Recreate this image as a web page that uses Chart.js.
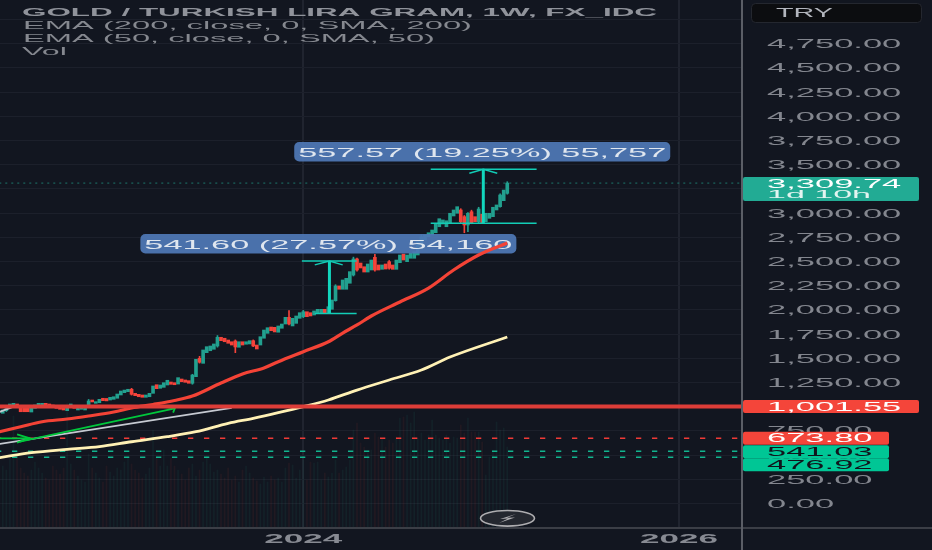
<!DOCTYPE html>
<html>
<head>
<meta charset="utf-8">
<title>GOLD / TURKISH LIRA GRAM</title>
<script src="https://cdn.jsdelivr.net/npm/chart.js@4"></script>
<style>
  html, body { margin: 0; padding: 0; background: #121620; }
  canvas { display: block; }
</style>
</head>
<body>
<canvas id="goldChart" width="932" height="550"></canvas>
<script>
// weekly candles, week 0 is the first week of 2024, first candle is week -84
const firstWeek = -84;
const opens = [
  932,959,994,1007,1028,994,983,987,945,983,1010,1018,1035,1028,1018,1007,1000,1000,959,1000,
  1007,966,973,966,1018,1069,1035,1041,1087,1085,1069,1076,1087,1121,1145,1155,1180,1138,1128,1121,
  1097,1103,1138,1227,1190,1200,1224,1255,1248,1234,1286,1276,1269,1242,1310,1500,1448,1558,1578,1593,
  1627,1717,1707,1689,1671,1679,1614,1671,1645,1648,1682,1637,1637,1707,1758,1823,1820,1769,1810,1854,
  1923,1834,1861,1913,1930,1981,1971,1947,1965,1971,2006,1971,2006,2095,2247,2213,2213,2275,2360,2526,
  2484,2446,2391,2412,2543,2464,2419,2474,2498,2464,2419,2488,2577,2498,2533,2533,2567,2670,2722,2756,
  2774,2797,2859,2887,2859,2901,2970,2998,3032,2963,2877,3014,2963,2911,2988,2911,2946,2963,3032,3066,
  3128,3204
];
const closes = [
  966,983,1028,1035,994,948,948,948,983,1018,1035,1035,1007,1000,994,983,973,966,983,1028,
  983,990,990,990,1059,1049,1052,1076,1062,1060,1097,1103,1131,1162,1172,1180,1128,1114,1103,1097,
  1121,1138,1214,1186,1224,1248,1273,1231,1227,1300,1258,1252,1242,1327,1490,1459,1586,1620,1627,1648,
  1717,1682,1671,1655,1637,1617,1671,1637,1671,1682,1627,1596,1723,1792,1816,1785,1772,1834,1854,1923,
  1854,1913,1937,1971,1981,1930,1937,1989,2006,2006,1971,2033,2102,2247,2213,2309,2326,2395,2526,2412,
  2433,2391,2474,2515,2412,2412,2464,2422,2430,2419,2515,2567,2515,2567,2585,2601,2704,2756,2774,2797,
  2825,2884,2942,2929,2921,2998,3032,3066,2911,2877,2998,2901,2911,3042,2901,2998,2998,3060,3084,3187,
  3238,3309.74
];
// only the wicks that show at this scale
const wickWeeks = [-83,-60,-48,-31,-29,-24,-19,-14,-4,0,9,14,15,20,24,33,44,45,46,47,49,55,57];
const wickHighs = [995,1075,1190,1335,1520,1735,1690,1690,1992,1995,2260,2545,2535,2575,2510,2775,3045,2975,3005,3030,3060,3200,3324];
const wickLows = [950,1010,1120,1232,1450,1615,1558,1620,1845,1920,2090,2350,2400,2400,2420,2660,2900,2797,2808,2890,2900,3060,3195];
const volumes = [
  62,58,70,112,75,60,55,52,58,66,60,55,50,48,62,58,54,60,125,64,
  58,52,48,46,74,60,55,50,46,62,56,52,60,58,66,72,64,58,55,50,
  54,60,98,70,62,78,62,70,62,58,54,48,60,64,52,58,66,72,64,56,
  58,54,50,60,48,52,46,58,62,55,50,47,44,51,46,52,48,50,
  46,60,65,63,50,58,68,48,66,65,66,48,55,51,55,68,55,58,61,68,
  98,105,85,81,75,78,95,91,90,81,88,85,91,110,111,113,105,116,90,95,
  88,93,108,93,90,88,93,85,91,90,103,95,110,96,96,96,86,53,71,78,
  106,98,100,81
];

const ema50Weeks = [-85,-79,-73,-66,-60,-53,-48,-42,-36,-31,-23,-17,-11,-7,0,7,11,15,19,27,35,42,49,57];
const ema50 = [741,793,845,873,904,945,987,1023,1064,1110,1245,1338,1400,1465,1568,1671,1761,1844,1937,2082,2226,2412,2567,2691];
const ema200Weeks = [-85,-76,-66,-57,-48,-38,-30,-21,-14,-7,0,7,15,24,33,41,57];
const ema200 = [473,525,560,587,638,690,742,828,880,938,1000,1069,1172,1276,1379,1513,1720];

const lastPrice = 3309.74;
const levelResistance = 1001.55;
const dashedRed = 673.80;
const dashedGreen = [541.03, 476.92];

const yTicks = [0,250,500,750,1000,1250,1500,1750,2000,2250,2500,2750,3000,3250,3500,3750,4000,4250,4500,4750,5000];
const yLabels = ['0.00','250.00','500.00','750.00','1,000.00','1,250.00','1,500.00','1,750.00','2,000.00','2,250.00','2,500.00','2,750.00','3,000.00','3,250.00','3,500.00','3,750.00','4,000.00','4,250.00','4,500.00','4,750.00',''];
const xTicks = [0, 105];
const xLabels = ['2024', '2026'];

const weeks = opens.map((_, i) => firstWeek + i);

const teal = '#22a08f';
const red = '#f4433a';

function toPoints(xs, ys) {
  return xs.map((x, i) => ({ x: x, y: ys[i] }));
}

function lineSet(points, color, width, order, dash, dashOffset) {
  return {
    type: 'line',
    data: points,
    borderColor: color,
    borderWidth: width,
    borderDash: dash || [],
    borderDashOffset: dashOffset || 0,
    pointRadius: 0,
    fill: false,
    tension: 0,
    order: order
  };
}

function level(value, color, width, order, dash, dashOffset) {
  return lineSet(toPoints([-90, 130], [value, value]), color, width, order, dash, dashOffset);
}

// stretched text, the screenshot was scaled wider than tall
function wideText(ctx, text, x, y, sx, font, color) {
  ctx.save();
  ctx.font = font;
  ctx.textAlign = 'left';
  ctx.textBaseline = 'middle';
  ctx.fillStyle = color;
  ctx.translate(x, y + 1);
  ctx.scale(sx, 1);
  ctx.fillText(text, 0, 0);
  ctx.restore();
}

function fitText(ctx, text, x, y, width, font, color) {
  ctx.save();
  ctx.font = font;
  const natural = ctx.measureText(text).width;
  ctx.restore();
  wideText(ctx, text, x, y, width / natural, font, color);
}

function roundBox(ctx, x, y, w, h, r, fill, stroke) {
  ctx.beginPath();
  ctx.roundRect(x, y, w, h, r);
  ctx.fillStyle = fill;
  ctx.fill();
  if (stroke) {
    ctx.strokeStyle = stroke;
    ctx.lineWidth = 1;
    ctx.stroke();
  }
}

const axisFont = '12.5px "Liberation Sans"';
const axisStretch = 2.76;

const overlay = {
  id: 'overlay',
  // measuring labels sit over the candles but under the red ema
  afterDatasetDraw(chart, args) {
    if (chart.data.datasets[args.index].label !== 'EMA 200') return;
    const ctx = chart.ctx;
    const measures = [
      { text: '541.60 (27.57%) 54,160', week: 7, value: 2686 },
      { text: '557.57 (19.25%) 55,757', week: 50, value: 3636 }
    ];
    measures.forEach(m => {
      const cx = chart.scales.x.getPixelForValue(m.week);
      const cy = chart.scales.y.getPixelForValue(m.value);
      ctx.save();
      ctx.globalAlpha = 0.93;
      roundBox(ctx, cx - 188, cy - 9.5, 376, 19.5, 5, '#4f79b6');
      ctx.restore();
      fitText(ctx, m.text, cx - 184, cy + 0.8, 368, axisFont, '#dfe6ef');
    });
  },
  afterDraw(chart) {
    const ctx = chart.ctx;
    const yScale = chart.scales.y;
    const xScale = chart.scales.x;

    // panel borders
    ctx.fillStyle = '#3b3e46';
    ctx.fillRect(0, 527, 932, 2);
    ctx.fillStyle = '#5b5e66';
    ctx.fillRect(741, 0, 2, 550);

    // header
    fitText(ctx, 'GOLD / TURKISH LIRA GRAM, 1W, FX_IDC', 22, 12, 635, 'bold 11.5px "Liberation Sans"', '#90939b');
    fitText(ctx, 'EMA (200, close, 0, SMA, 200)', 23, 25, 449, '11.5px "Liberation Sans"', '#85888f');
    fitText(ctx, 'EMA (50, close, 0, SMA, 50)', 23, 38, 412, '11.5px "Liberation Sans"', '#85888f');
    fitText(ctx, 'Vol', 22, 51, 45, '11.5px "Liberation Sans"', '#85888f');

    // y axis labels
    yScale.ticks.forEach((t, i) => {
      if (yLabels[i]) {
        wideText(ctx, yLabels[i], 767, yScale.getPixelForValue(t.value), axisStretch, axisFont, '#83868e');
      }
    });

    // x axis labels
    xTicks.forEach((t, i) => {
      fitText(ctx, xLabels[i], xScale.getPixelForValue(t) - 39, 538.5, 78, 'bold 12px "Liberation Sans"', '#878a92');
    });

    // currency box
    roundBox(ctx, 751.5, 3.5, 170, 19, 4, '#0c0d10', '#24272f');
    fitText(ctx, 'TRY', 776, 12.5, 57, axisFont, '#b2b5bd');

    // price tags, the last one is pushed down by its neighbour
    const tagRows = [
      { label: '1,001.55', value: levelResistance, fill: '#f4453a', text: '#ffffff', right: 919, shift: 0 },
      { label: '673.80', value: dashedRed, fill: '#f4453a', text: '#ffffff', right: 889, shift: 0 },
      { label: '541.03', value: dashedGreen[0], fill: '#00c695', text: '#10141c', right: 889, shift: 0.5 },
      { label: '476.92', value: dashedGreen[1], fill: '#00c695', text: '#10141c', right: 889, shift: 7.5 }
    ];
    tagRows.forEach(t => {
      const py = yScale.getPixelForValue(t.value) + t.shift;
      roundBox(ctx, 743, py - 6.5, t.right - 743, 13, 2, t.fill);
      wideText(ctx, t.label, 767, py - 0.5, axisStretch, axisFont, t.text);
    });
    const lastY = yScale.getPixelForValue(lastPrice);
    roundBox(ctx, 743, lastY - 6, 176, 24, 2, '#22ab94');
    wideText(ctx, '3,309.74', 767, lastY, axisStretch, axisFont, '#ffffff');
    fitText(ctx, '1d 10h', 767, lastY + 10.5, 104, '11.5px "Liberation Sans"', '#e2f4f0');

    // logo
    ctx.beginPath();
    ctx.ellipse(507.5, 518.3, 27, 7.8, 0, 0, Math.PI * 2);
    ctx.fillStyle = '#24272f';
    ctx.fill();
    ctx.strokeStyle = '#aeadb0';
    ctx.lineWidth = 1.6;
    ctx.stroke();
    ctx.beginPath();
    ctx.moveTo(516, 514);
    ctx.lineTo(500, 519);
    ctx.lineTo(508, 518.5);
    ctx.lineTo(499, 523);
    ctx.lineTo(515, 517.5);
    ctx.lineTo(507, 517.8);
    ctx.closePath();
    ctx.fillStyle = '#aeadb0';
    ctx.fill();
  }
};

const ema200Set = lineSet(toPoints(ema200Weeks, ema200), '#fff1b5', 2.8, 4);
ema200Set.label = 'EMA 200';
ema200Set.cubicInterpolationMode = 'monotone';
const ema50Set = lineSet(toPoints(ema50Weeks, ema50), '#f44336', 3.2, 3);
ema50Set.label = 'EMA 50';
ema50Set.cubicInterpolationMode = 'monotone';

const ctx = document.getElementById('goldChart').getContext('2d');
const goldChart = new Chart(ctx, {
  type: 'bar',
  data: {
    datasets: [
      // volume
      {
        type: 'bar',
        yAxisID: 'yVol',
        data: toPoints(weeks, volumes),
        backgroundColor: weeks.map((_, i) => closes[i] >= opens[i] ? 'rgba(34,160,143,0.08)' : 'rgba(244,67,58,0.07)'),
        barThickness: 1,
        grouped: false,
        order: 12
      },
      // candles
      {
        type: 'bar',
        data: wickWeeks.map((w, i) => ({ x: w, y: [wickLows[i], wickHighs[i]] })),
        backgroundColor: wickWeeks.map(w => {
          const i = w - firstWeek;
          return closes[i] >= opens[i] ? teal : red;
        }),
        barThickness: 1,
        grouped: false,
        order: 9
      },
      {
        type: 'bar',
        data: weeks.map((w, i) => ({ x: w, y: [opens[i], closes[i]] })),
        backgroundColor: weeks.map((_, i) => closes[i] >= opens[i] ? teal : red),
        barThickness: 3,
        grouped: false,
        order: 8
      },
      // last price and levels
      level(lastPrice, 'rgba(34,171,148,0.65)', 1, 10, [2, 4]),
      level(dashedRed, '#f03a36', 1.5, 7, [5.3, 10.7], 1.3),
      level(dashedGreen[0], '#12b48e', 1.5, 7, [5.3, 10.7], 1.3),
      level(dashedGreen[1], '#12b48e', 1.5, 7, [5.3, 10.7], 1.3),
      // trend lines and arrows
      lineSet(toPoints([-85, -20], [615, 987]), '#c6cad2', 1.8, 6),
      lineSet(toPoints([-85, -81], [945, 1000]), '#c6cad2', 1.8, 6),
      lineSet(toPoints([-85, -76.4], [673, 673]), '#00c83c', 1.8, 5),
      lineSet(toPoints([-80, -76.4, -80], [715, 673, 628]), '#00c83c', 1.8, 5),
      lineSet(toPoints([-79.2, -35.9], [638, 983]), '#00c83c', 1.8, 5),
      lineSet(toPoints([-40.6, -35.9, -36.4], [1007, 983, 938]), '#00c83c', 1.8, 5),
      // ema
      ema200Set,
      ema50Set,
      level(levelResistance, '#dd3d38', 4, 2),
      // measuring tools
      lineSet(toPoints([-0.4, 14.9], [2505, 2505]), '#12cdb6', 1.5, 1),
      lineSet(toPoints([3.2, 14.9], [1963, 1963]), '#12cdb6', 1.5, 1),
      lineSet(toPoints([7.3, 7.3], [1963, 2505]), '#12d6bd', 3, 1),
      lineSet(toPoints([3.2, 7.3, 11], [2465, 2505, 2465]), '#12cdb6', 1.5, 1),
      lineSet(toPoints([35.6, 65.2], [3452, 3452]), '#12cdb6', 1.5, 1),
      lineSet(toPoints([35.6, 65.2], [2894, 2894]), '#12cdb6', 1.5, 1),
      lineSet(toPoints([50.3, 50.3], [2894, 3452]), '#12d6bd', 3, 1),
      lineSet(toPoints([46.4, 50.3, 54.2], [3412, 3452, 3412]), '#12cdb6', 1.5, 1)
    ]
  },
  options: {
    responsive: false,
    animation: false,
    events: [],
    layout: { padding: 0 },
    plugins: { legend: { display: false }, tooltip: { enabled: false } },
    scales: {
      x: {
        type: 'linear',
        offset: false,
        min: -84.77,
        max: 122.6,
        afterBuildTicks: scale => { scale.ticks = xTicks.map(v => ({ value: v })); },
        afterFit: scale => { scale.height = 22; },
        ticks: { display: false },
        border: { display: false },
        grid: { offset: false, color: '#20242f', lineWidth: 2, drawTicks: false }
      },
      y: {
        type: 'linear',
        position: 'right',
        min: -253,
        max: 5201,
        afterBuildTicks: scale => { scale.ticks = yTicks.map(v => ({ value: v })); },
        afterFit: scale => { scale.width = 190; },
        ticks: { display: false },
        border: { display: false },
        grid: { color: '#1c202b', lineWidth: 1, drawTicks: false }
      },
      yVol: {
        type: 'linear',
        display: false,
        min: 0,
        max: 528
      }
    }
  },
  plugins: [overlay]
});
</script>
</body>
</html>
